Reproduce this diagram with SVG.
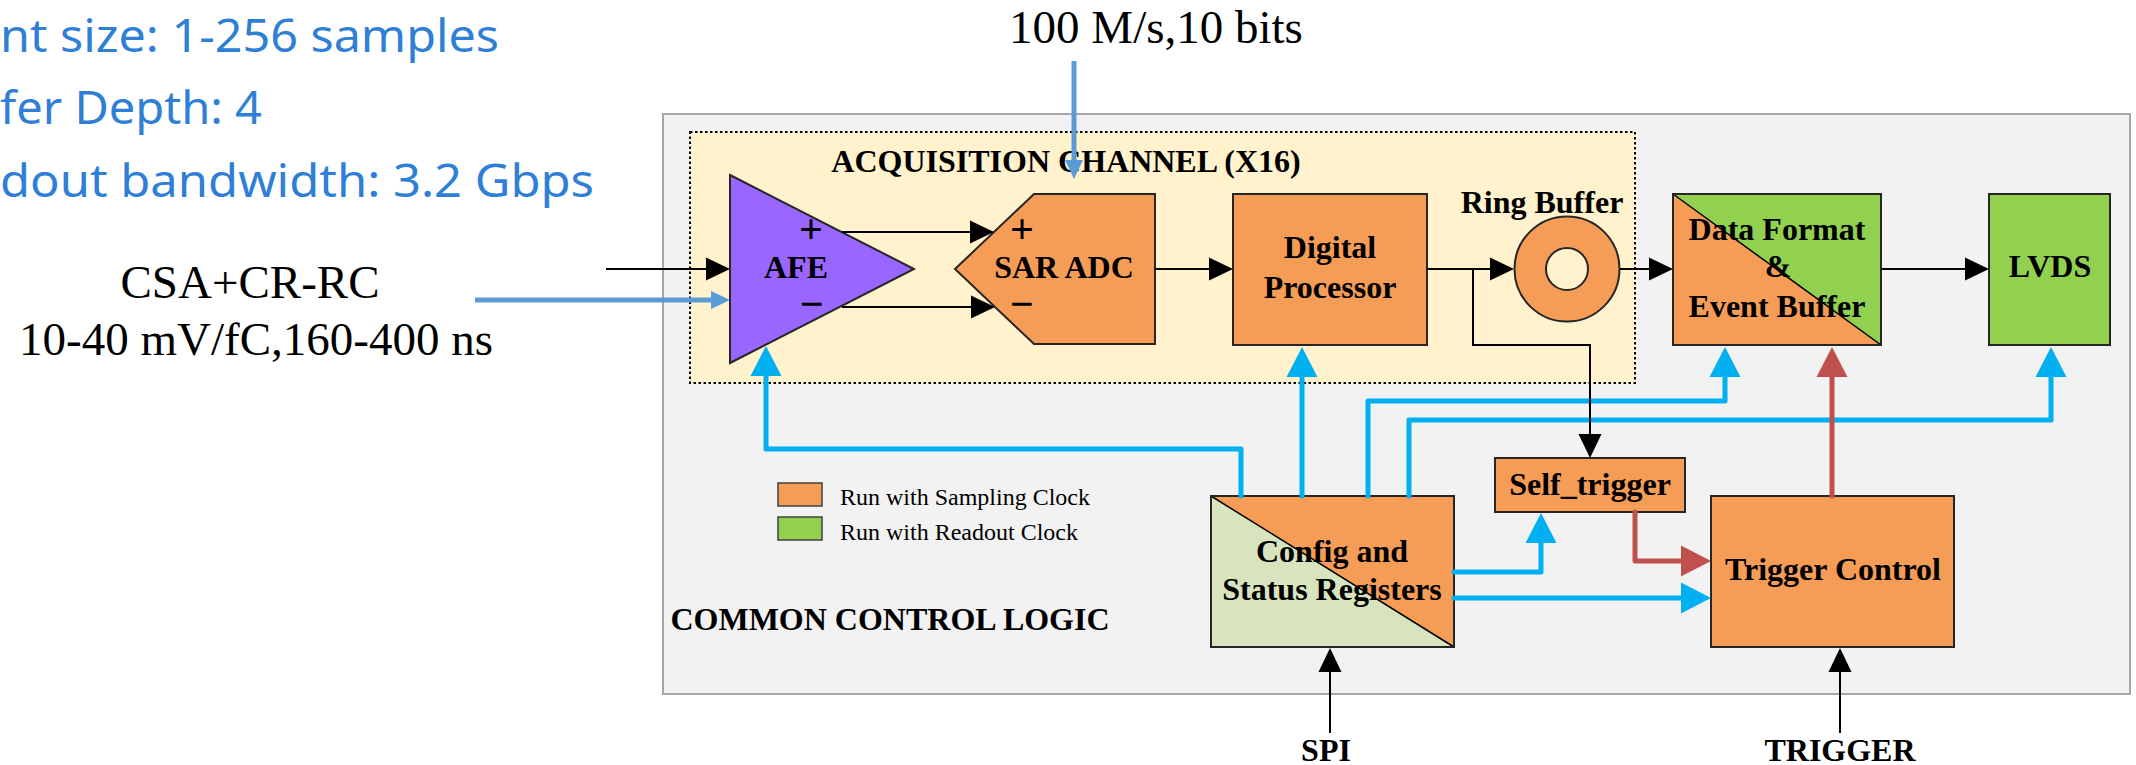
<svg xmlns="http://www.w3.org/2000/svg" width="2136" height="765" viewBox="0 0 2136 765">
<style>
.lbl{font-family:"Liberation Serif","Times New Roman",serif;font-weight:bold;font-size:32px;fill:#000;text-anchor:middle}
.note{font-family:"Liberation Serif","Times New Roman",serif;font-size:47px;fill:#000;text-anchor:middle}
.leg{font-family:"Liberation Serif","Times New Roman",serif;font-size:24px;fill:#000}
.spec{font-family:"Noto Sans","Open Sans",sans-serif;font-size:45px;fill:#2f7fd6}
.pm{font-family:"Liberation Serif","Times New Roman",serif;font-weight:bold;font-size:42px;fill:#000;text-anchor:middle}
.node{stroke:#262626;stroke-width:2}
.org{fill:#f59d56}
.grn{fill:#92d050}
.blk{fill:none;stroke:#000;stroke-width:2}
.cyan{fill:none;stroke:#00b0f0;stroke-width:5;stroke-linejoin:round;stroke-linecap:round}
.red{fill:none;stroke:#c0504d;stroke-width:5;stroke-linejoin:round;stroke-linecap:round}
.lb{fill:none;stroke:#5b9bd5;stroke-width:5}
</style>
<defs>
<marker id="ab" markerUnits="userSpaceOnUse" markerWidth="25" markerHeight="24" refX="0" refY="12" orient="auto"><path d="M0,0.5 L24,12 L0,23.5 z" fill="#000"/></marker>
<marker id="ac" markerUnits="userSpaceOnUse" markerWidth="31" markerHeight="32" refX="0" refY="16" orient="auto"><path d="M0,0.5 L30,16 L0,31.5 z" fill="#00b0f0"/></marker>
<marker id="ar" markerUnits="userSpaceOnUse" markerWidth="31" markerHeight="32" refX="0" refY="16" orient="auto"><path d="M0,0.5 L30,16 L0,31.5 z" fill="#c0504d"/></marker>
<marker id="al" markerUnits="userSpaceOnUse" markerWidth="20" markerHeight="19" refX="0" refY="9.5" orient="auto"><path d="M0,0.5 L19,9.5 L0,18.5 z" fill="#5b9bd5"/></marker>
</defs>
<rect width="2136" height="765" fill="#ffffff"/>

<g id="specs">
<text class="spec" x="0" y="52" textLength="499" lengthAdjust="spacingAndGlyphs">nt size: 1-256 samples</text>
<text class="spec" x="0" y="124" textLength="262" lengthAdjust="spacingAndGlyphs">fer Depth: 4</text>
<text class="spec" x="0" y="197" textLength="594" lengthAdjust="spacingAndGlyphs">dout bandwidth: 3.2 Gbps</text>
<text class="note" x="250" y="298">CSA+CR-RC</text>
<text class="note" x="256" y="355">10-40 mV/fC,160-400 ns</text>
<text class="note" x="1156" y="43">100 M/s,10 bits</text>
</g>

<g id="common-control-logic">
<rect x="663" y="114" width="1467" height="580" fill="#f2f2f2" stroke="#a6a6a6" stroke-width="2"/>
<text class="lbl" x="890" y="630">COMMON CONTROL LOGIC</text>
</g>

<g id="acquisition-channel">
<rect x="690" y="132" width="945" height="251" fill="#fff2cc" stroke="#000" stroke-width="2" stroke-dasharray="2.5 2.5"/>
<text class="lbl" x="1066" y="172">ACQUISITION CHANNEL (X16)</text>
</g>

<g id="legend">
<rect x="778" y="483" width="44" height="23" class="org" stroke="#404040" stroke-width="1.5"/>
<text class="leg" x="840" y="505">Run with Sampling Clock</text>
<rect x="778" y="517" width="44" height="23" class="grn" stroke="#404040" stroke-width="1.5"/>
<text class="leg" x="840" y="540">Run with Readout Clock</text>
</g>

<g id="afe">
<polygon class="node" points="730,175 914,269 730,363" fill="#9966ff"/>
<text class="lbl" x="796" y="278">AFE</text>
<text class="pm" x="811" y="243">+</text>
<text class="pm" x="812" y="318">−</text>
</g>

<g id="sar-adc">
<polygon class="node org" points="955,269 1034,194 1155,194 1155,344 1034,344"/>
<text class="lbl" x="1064" y="278">SAR ADC</text>
<text class="pm" x="1022" y="243">+</text>
<text class="pm" x="1022" y="318">−</text>
</g>

<g id="digital-processor">
<rect class="node org" x="1233" y="194" width="194" height="151"/>
<text class="lbl" x="1330" y="258">Digital</text>
<text class="lbl" x="1330" y="298">Processor</text>
</g>

<g id="ring-buffer">
<text class="lbl" x="1542" y="213">Ring Buffer</text>
<circle class="node org" cx="1567" cy="269" r="52.5"/>
<circle class="node" cx="1567" cy="269" r="21" fill="#fff2cc" stroke-width="1.5"/>
</g>

<g id="data-format">
<polygon class="org" points="1673,194 1673,345 1881,345"/>
<polygon class="grn" points="1673,194 1881,194 1881,345"/>
<line x1="1673" y1="194" x2="1881" y2="345" stroke="#000" stroke-width="1.5"/>
<rect x="1673" y="194" width="208" height="151" fill="none" stroke="#262626" stroke-width="2"/>
<text class="lbl" x="1777" y="240">Data Format</text>
<text class="lbl" x="1778" y="277">&amp;</text>
<text class="lbl" x="1777" y="317">Event Buffer</text>
</g>

<g id="lvds">
<rect class="node grn" x="1989" y="194" width="121" height="151"/>
<text class="lbl" x="2050" y="277">LVDS</text>
</g>

<g id="config-status-registers">
<polygon fill="#d7e4bd" points="1211,496 1211,647 1454,647"/>
<polygon class="org" points="1211,496 1454,496 1454,647"/>
<line x1="1211" y1="496" x2="1454" y2="647" stroke="#000" stroke-width="1.5"/>
<rect x="1211" y="496" width="243" height="151" fill="none" stroke="#262626" stroke-width="2"/>
<text class="lbl" x="1332" y="562">Config and</text>
<text class="lbl" x="1332" y="600">Status Registers</text>
</g>

<g id="self-trigger">
<rect class="node org" x="1495" y="458" width="190" height="54"/>
<text class="lbl" x="1590" y="495">Self_trigger</text>
</g>

<g id="trigger-control">
<rect class="node org" x="1711" y="496" width="243" height="151"/>
<text class="lbl" x="1833" y="580">Trigger Control</text>
</g>

<g id="io-labels">
<text class="lbl" x="1326" y="761">SPI</text>
<text class="lbl" x="1840" y="761">TRIGGER</text>
</g>

<g id="connectors">
<path class="lb" d="M475,300 H711" marker-end="url(#al)"/>
<path class="lb" d="M1074,61 V160" marker-end="url(#al)"/>
<path class="cyan" d="M1241,496 V449 H766 V376" marker-end="url(#ac)"/>
<path class="cyan" d="M1302,496 V377" marker-end="url(#ac)"/>
<path class="cyan" d="M1368,496 V401 H1725 V377" marker-end="url(#ac)"/>
<path class="cyan" d="M1409,496 V420 H2051 V377" marker-end="url(#ac)"/>
<path class="cyan" d="M1454,572 H1541 V543" marker-end="url(#ac)"/>
<path class="cyan" d="M1454,598 H1681" marker-end="url(#ac)"/>
<path class="red" d="M1635,512 V561 H1681" marker-end="url(#ar)"/>
<path class="red" d="M1832,496 V377" marker-end="url(#ar)"/>
<path class="blk" d="M606,269 H706" marker-end="url(#ab)"/>
<path class="blk" d="M842,232 H970" marker-end="url(#ab)"/>
<path class="blk" d="M842,307 H971" marker-end="url(#ab)"/>
<path class="blk" d="M1155,269 H1209" marker-end="url(#ab)"/>
<path class="blk" d="M1427,269 H1490" marker-end="url(#ab)"/>
<path class="blk" d="M1620,269 H1649" marker-end="url(#ab)"/>
<path class="blk" d="M1881,269 H1965" marker-end="url(#ab)"/>
<path class="blk" d="M1473,269 V345 H1590 V434" marker-end="url(#ab)"/>
<path class="blk" d="M1330,733 V672" marker-end="url(#ab)"/>
<path class="blk" d="M1840,733 V672" marker-end="url(#ab)"/>
</g>
</svg>
